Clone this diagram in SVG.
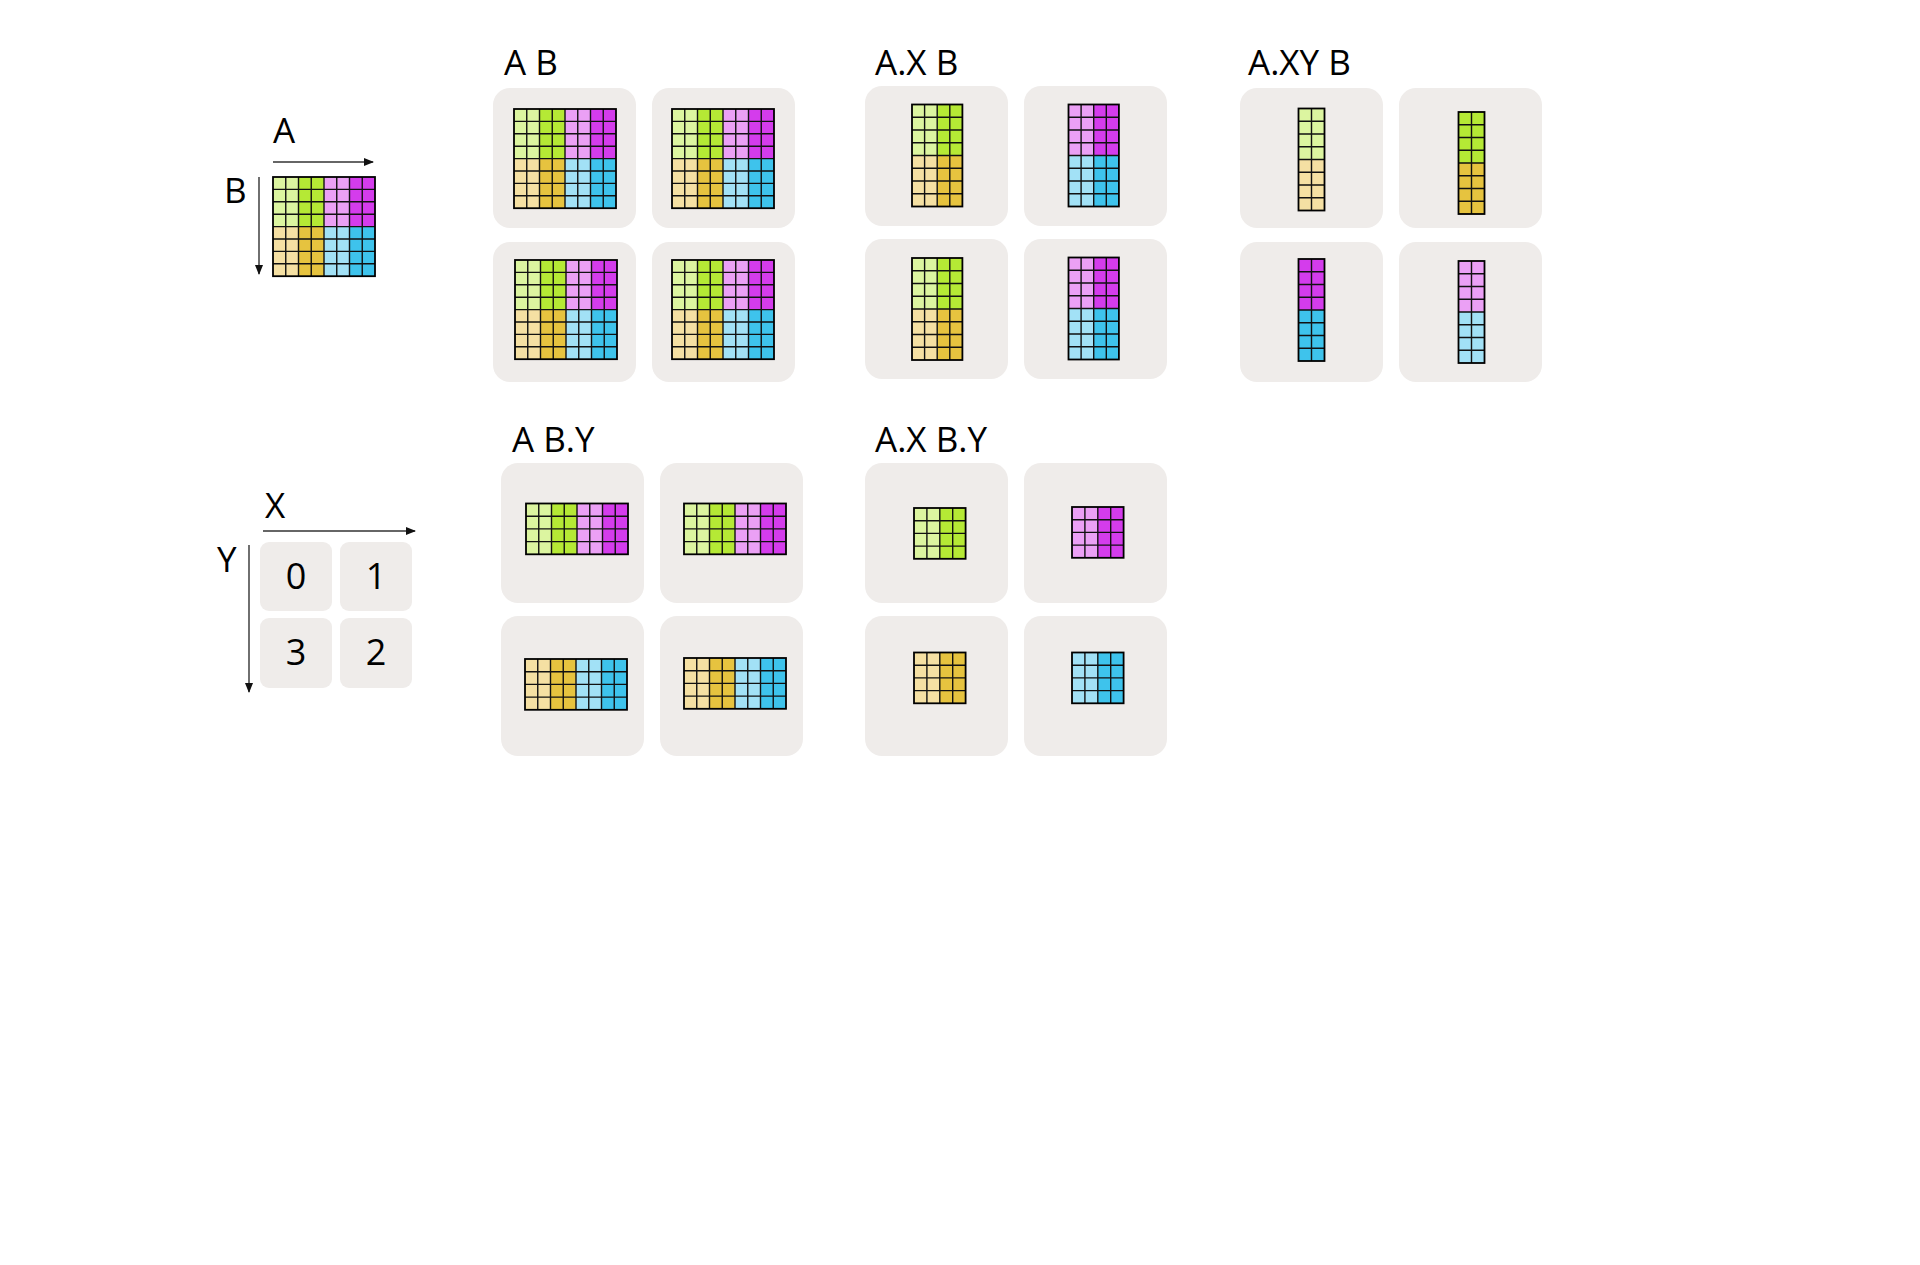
<svg xmlns="http://www.w3.org/2000/svg" xmlns:xlink="http://www.w3.org/1999/xlink" width="1920" height="1265" viewBox="0 0 1920 1265">
<style>
.t{font-family:"Open Sans","Noto Sans","Liberation Sans",sans-serif;font-size:35px;fill:#000}
.n{font-family:"Open Sans","Noto Sans","Liberation Sans",sans-serif;font-size:36px;fill:#000;text-anchor:middle}
.card{fill:#efecea}
.lg{fill:#dcf5a0}.g{fill:#b5e935}.lp{fill:#eba0f5}.m{fill:#d43cec}
.ly{fill:#f5e0a3}.go{fill:#e6c33f}.lb{fill:#a2e1f6}.b{fill:#3ec3ec}
.gl{fill:none;stroke:#111;stroke-width:1.4}
.ob{fill:none;stroke:#000;stroke-width:1.8}
.ar{fill:none;stroke:#333;stroke-width:1.4}
</style>
<defs>
<marker id="ah" markerWidth="10" markerHeight="8" refX="9" refY="4" orient="auto" markerUnits="userSpaceOnUse">
<path d="M0 0L10 4L0 8z" fill="#111"/>
</marker>
<path id="g88" class="gl" d="M12.75 0V99.2M25.5 0V99.2M38.25 0V99.2M51 0V99.2M63.75 0V99.2M76.5 0V99.2M89.25 0V99.2M0 12.4H102M0 24.8H102M0 37.2H102M0 49.6H102M0 62H102M0 74.4H102M0 86.8H102"/>
<path id="g48" class="gl" d="M12.6 0V102M25.2 0V102M37.8 0V102M0 12.75H50.4M0 25.5H50.4M0 38.25H50.4M0 51H50.4M0 63.75H50.4M0 76.5H50.4M0 89.25H50.4"/>
<path id="g28" class="gl" d="M13 0V102M0 12.75H26M0 25.5H26M0 38.25H26M0 51H26M0 63.75H26M0 76.5H26M0 89.25H26"/>
<path id="g84" class="gl" d="M12.75 0V50.8M25.5 0V50.8M38.25 0V50.8M51 0V50.8M63.75 0V50.8M76.5 0V50.8M89.25 0V50.8M0 12.7H102M0 25.4H102M0 38.1H102"/>
<path id="g44" class="gl" d="M12.9 0V50.8M25.8 0V50.8M38.7 0V50.8M0 12.7H51.6M0 25.4H51.6M0 38.1H51.6"/>
<g id="mfull">
<rect class="lg" x="0" y="0" width="25.5" height="49.6"/><rect class="g" x="25.5" y="0" width="25.5" height="49.6"/>
<rect class="lp" x="51" y="0" width="25.5" height="49.6"/><rect class="m" x="76.5" y="0" width="25.5" height="49.6"/>
<rect class="ly" x="0" y="49.6" width="25.5" height="49.6"/><rect class="go" x="25.5" y="49.6" width="25.5" height="49.6"/>
<rect class="lb" x="51" y="49.6" width="25.5" height="49.6"/><rect class="b" x="76.5" y="49.6" width="25.5" height="49.6"/>
<use xlink:href="#g88"/><rect class="ob" x="0" y="0" width="102" height="99.2"/>
</g>
<g id="mxa">
<rect class="lg" x="0" y="0" width="25.2" height="51"/><rect class="g" x="25.2" y="0" width="25.2" height="51"/>
<rect class="ly" x="0" y="51" width="25.2" height="51"/><rect class="go" x="25.2" y="51" width="25.2" height="51"/>
<use xlink:href="#g48"/><rect class="ob" x="0" y="0" width="50.4" height="102"/>
</g>
<g id="mxb">
<rect class="lp" x="0" y="0" width="25.2" height="51"/><rect class="m" x="25.2" y="0" width="25.2" height="51"/>
<rect class="lb" x="0" y="51" width="25.2" height="51"/><rect class="b" x="25.2" y="51" width="25.2" height="51"/>
<use xlink:href="#g48"/><rect class="ob" x="0" y="0" width="50.4" height="102"/>
</g>
<g id="mxy0"><rect class="lg" width="26" height="51"/><rect class="ly" y="51" width="26" height="51"/><use xlink:href="#g28"/><rect class="ob" width="26" height="102"/></g>
<g id="mxy1"><rect class="g" width="26" height="51"/><rect class="go" y="51" width="26" height="51"/><use xlink:href="#g28"/><rect class="ob" width="26" height="102"/></g>
<g id="mxy3"><rect class="m" width="26" height="51"/><rect class="b" y="51" width="26" height="51"/><use xlink:href="#g28"/><rect class="ob" width="26" height="102"/></g>
<g id="mxy2"><rect class="lp" width="26" height="51"/><rect class="lb" y="51" width="26" height="51"/><use xlink:href="#g28"/><rect class="ob" width="26" height="102"/></g>
<g id="myt">
<rect class="lg" width="25.5" height="50.8"/><rect class="g" x="25.5" width="25.5" height="50.8"/>
<rect class="lp" x="51" width="25.5" height="50.8"/><rect class="m" x="76.5" width="25.5" height="50.8"/>
<use xlink:href="#g84"/><rect class="ob" width="102" height="50.8"/>
</g>
<g id="myb">
<rect class="ly" width="25.5" height="50.8"/><rect class="go" x="25.5" width="25.5" height="50.8"/>
<rect class="lb" x="51" width="25.5" height="50.8"/><rect class="b" x="76.5" width="25.5" height="50.8"/>
<use xlink:href="#g84"/><rect class="ob" width="102" height="50.8"/>
</g>
<g id="mq0"><rect class="lg" width="25.8" height="50.8"/><rect class="g" x="25.8" width="25.8" height="50.8"/><use xlink:href="#g44"/><rect class="ob" width="51.6" height="50.8"/></g>
<g id="mq1"><rect class="lp" width="25.8" height="50.8"/><rect class="m" x="25.8" width="25.8" height="50.8"/><use xlink:href="#g44"/><rect class="ob" width="51.6" height="50.8"/></g>
<g id="mq3"><rect class="ly" width="25.8" height="50.8"/><rect class="go" x="25.8" width="25.8" height="50.8"/><use xlink:href="#g44"/><rect class="ob" width="51.6" height="50.8"/></g>
<g id="mq2"><rect class="lb" width="25.8" height="50.8"/><rect class="b" x="25.8" width="25.8" height="50.8"/><use xlink:href="#g44"/><rect class="ob" width="51.6" height="50.8"/></g>
</defs>
<rect width="1920" height="1265" fill="#fff"/>

<g id="connectors">
<path class="ar" d="M273 162H373" marker-end="url(#ah)"/>
<path class="ar" d="M259 177V274" marker-end="url(#ah)"/>
<path class="ar" d="M263 531H415" marker-end="url(#ah)"/>
<path class="ar" d="M249 545V692" marker-end="url(#ah)"/>
</g>

<g id="legend-ab">
<text class="t" x="273" y="143">A</text>
<text class="t" x="224" y="203">B</text>
<use xlink:href="#mfull" x="273" y="177"/>
</g>

<g id="legend-xy">
<text class="t" x="265" y="518">X</text>
<text class="t" x="217" y="572">Y</text>
<g id="dev0"><rect class="card" x="260" y="542" width="72" height="69" rx="9"/><text class="n" x="296" y="589">0</text></g>
<g id="dev1"><rect class="card" x="340" y="542" width="72" height="69" rx="9"/><text class="n" x="376" y="589">1</text></g>
<g id="dev3"><rect class="card" x="260" y="618" width="72" height="70" rx="9"/><text class="n" x="296" y="665">3</text></g>
<g id="dev2"><rect class="card" x="340" y="618" width="72" height="70" rx="9"/><text class="n" x="376" y="665">2</text></g>
</g>

<g id="ab">
<text class="t" x="504" y="75">A B</text>
<rect class="card" x="493" y="88" width="143" height="140" rx="17"/>
<rect class="card" x="652" y="88" width="143" height="140" rx="17"/>
<rect class="card" x="493" y="242" width="143" height="140" rx="17"/>
<rect class="card" x="652" y="242" width="143" height="140" rx="17"/>
<use xlink:href="#mfull" x="514" y="109"/>
<use xlink:href="#mfull" x="672" y="109"/>
<use xlink:href="#mfull" x="515" y="260"/>
<use xlink:href="#mfull" x="672" y="260"/>
</g>

<g id="axb">
<text class="t" x="875" y="75">A.X B</text>
<rect class="card" x="865" y="86" width="143" height="140" rx="17"/>
<rect class="card" x="1024" y="86" width="143" height="140" rx="17"/>
<rect class="card" x="865" y="239" width="143" height="140" rx="17"/>
<rect class="card" x="1024" y="239" width="143" height="140" rx="17"/>
<use xlink:href="#mxa" x="912" y="104.5"/>
<use xlink:href="#mxb" x="1068.5" y="104.5"/>
<use xlink:href="#mxa" x="912" y="258"/>
<use xlink:href="#mxb" x="1068.5" y="257.5"/>
</g>

<g id="axyb">
<text class="t" x="1248" y="75">A.XY B</text>
<rect class="card" x="1240" y="88" width="143" height="140" rx="17"/>
<rect class="card" x="1399" y="88" width="143" height="140" rx="17"/>
<rect class="card" x="1240" y="242" width="143" height="140" rx="17"/>
<rect class="card" x="1399" y="242" width="143" height="140" rx="17"/>
<use xlink:href="#mxy0" x="1298.5" y="108.5"/>
<use xlink:href="#mxy1" x="1458.5" y="112"/>
<use xlink:href="#mxy3" x="1298.5" y="259"/>
<use xlink:href="#mxy2" x="1458.5" y="261"/>
</g>

<g id="aby">
<text class="t" x="512" y="452">A B.Y</text>
<rect class="card" x="501" y="463" width="143" height="140" rx="17"/>
<rect class="card" x="660" y="463" width="143" height="140" rx="17"/>
<rect class="card" x="501" y="616" width="143" height="140" rx="17"/>
<rect class="card" x="660" y="616" width="143" height="140" rx="17"/>
<use xlink:href="#myt" x="526" y="503.5"/>
<use xlink:href="#myt" x="684" y="503.5"/>
<use xlink:href="#myb" x="525" y="659"/>
<use xlink:href="#myb" x="684" y="658"/>
</g>

<g id="axby">
<text class="t" x="875" y="452">A.X B.Y</text>
<rect class="card" x="865" y="463" width="143" height="140" rx="17"/>
<rect class="card" x="1024" y="463" width="143" height="140" rx="17"/>
<rect class="card" x="865" y="616" width="143" height="140" rx="17"/>
<rect class="card" x="1024" y="616" width="143" height="140" rx="17"/>
<use xlink:href="#mq0" x="914" y="508"/>
<use xlink:href="#mq1" x="1072" y="507"/>
<use xlink:href="#mq3" x="914" y="652.5"/>
<use xlink:href="#mq2" x="1072" y="652.5"/>
</g>
</svg>
